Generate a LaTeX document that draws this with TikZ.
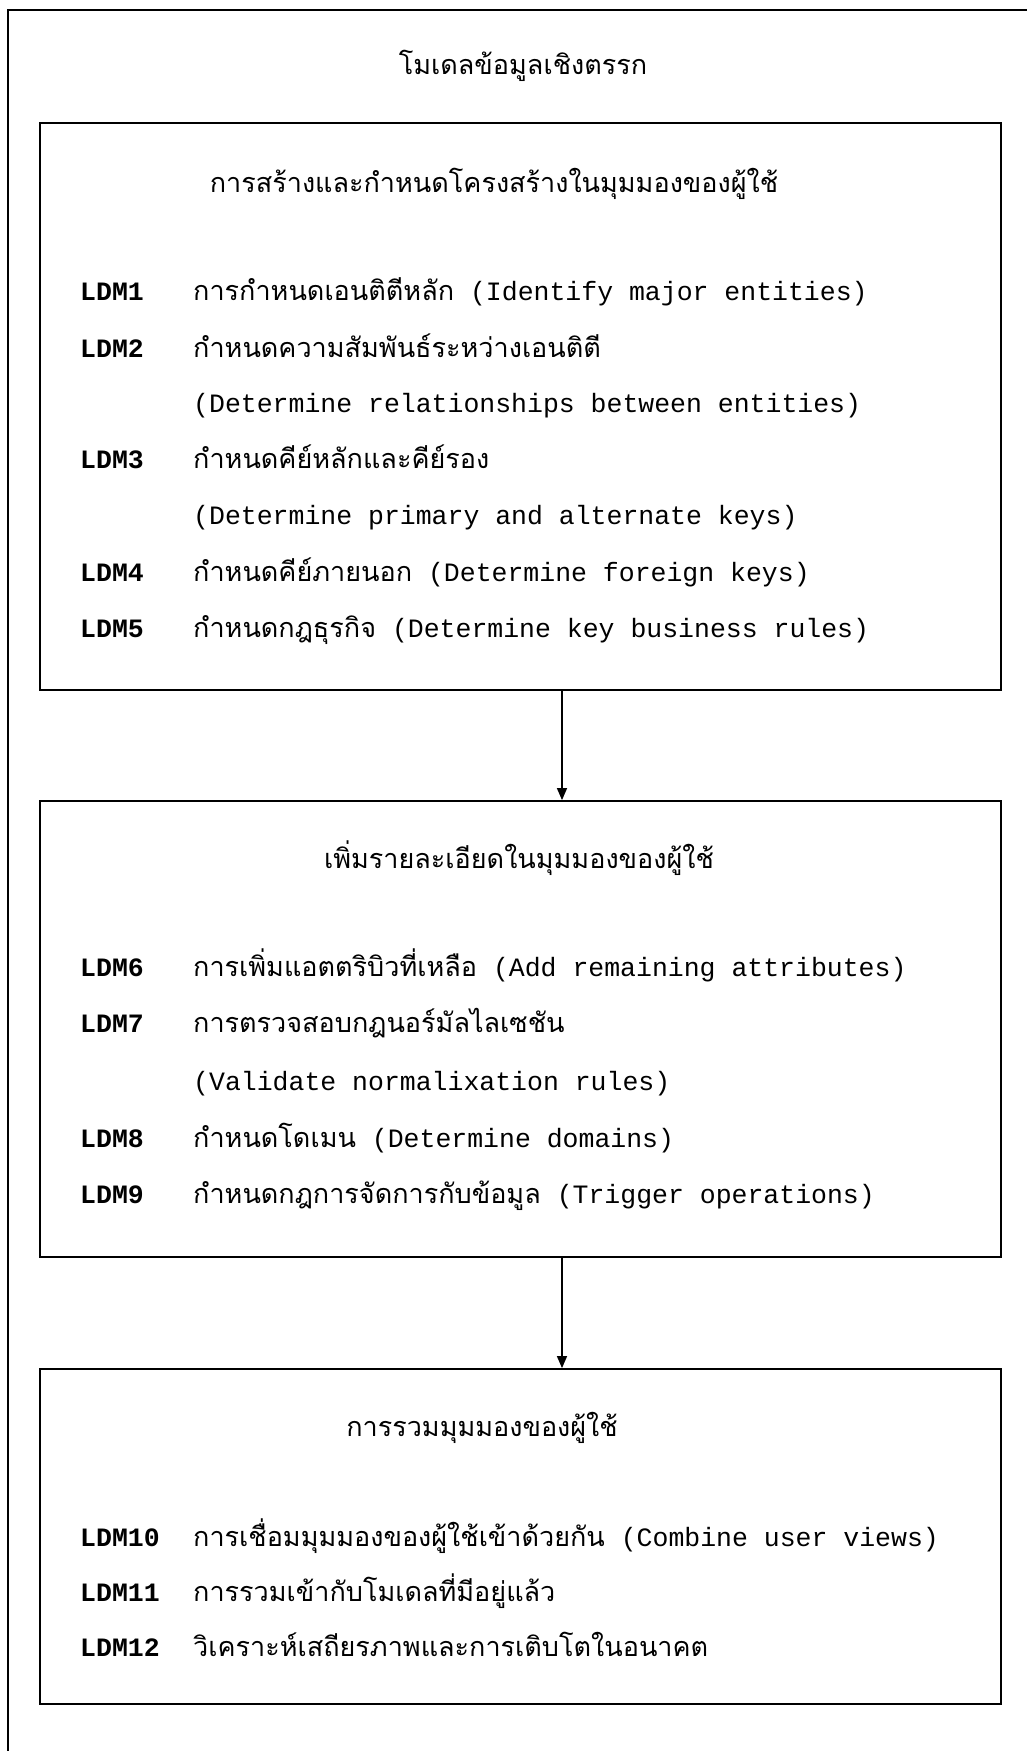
\documentclass[tikz,border=0pt]{standalone}
\usepackage{fontspec}
\setmonofont{Liberation Mono}
\newfontfamily\thaif[Script=Thai]{Loma}
\usetikzlibrary{arrows.meta}
\tikzset{
  x=1pt, y=-1pt,
  box/.style={draw, line width=1.8pt, inner sep=0pt},
  frame/.style={draw, line width=2.4pt},
  arr/.style={draw, line width=1.4pt, -{Triangle[length=12pt,width=10pt]}},
  lbl/.style={anchor=base west, inner sep=0pt, font=\fontsize{26.5}{30}\ttfamily\bfseries},
  txt/.style={anchor=base west, inner sep=0pt, font=\fontsize{26.5}{30}\ttfamily},
  head/.style={anchor=base, inner sep=0pt, font=\fontsize{27}{30}\thaif},
}
\newcommand{\thx}[1]{{\fontsize{27}{30}\thaif #1}}
\begin{document}
\begin{tikzpicture}
\useasboundingbox (0,0) rectangle (1027,1751);
% outer frame (cut by the page at right and bottom)
\coordinate (ftl) at (8,10);
\draw[frame] (1040,10) -- (ftl) -- (8,1760);
% title
\node[head] (title) at (523,74) {โมเดลข้อมูลเชิงตรรก};
% boxes
\node[box, minimum width=961pt, minimum height=567pt] (b1) at (520.5,406.5) {};
\node[box, minimum width=961pt, minimum height=456pt] (b2) at (520.5,1029) {};
\node[box, minimum width=961pt, minimum height=335pt] (b3) at (520.5,1536.5) {};
\coordinate (ax) at (562,0);
\draw[arr] (b1.south -| ax) -- (b2.north -| ax);
\draw[arr] (b2.south -| ax) -- (b3.north -| ax);
% box 1
\node[head] (h1) at (494,192) {การสร้างและกำหนดโครงสร้างในมุมมองของผู้ใช้};
\node[lbl] (l1) at (80,300) {LDM1};
\node[txt] (t1) at (193,300) {\thx{การกำหนดเอนติตีหลัก} (Identify major entities)};
\node[lbl] (l2) at (80,357) {LDM2};
\node[txt] (t2) at (193,357) {\thx{กำหนดความสัมพันธ์ระหว่างเอนติตี}};
\node[txt] (t2b) at (193,412) {(Determine relationships between entities)};
\node[lbl] (l3) at (80,468) {LDM3};
\node[txt] (t3) at (193,468) {\thx{กำหนดคีย์หลักและคีย์รอง}};
\node[txt] (t3b) at (193,524) {(Determine primary and alternate keys)};
\node[lbl] (l4) at (80,581) {LDM4};
\node[txt] (t4) at (193,581) {\thx{กำหนดคีย์ภายนอก} (Determine foreign keys)};
\node[lbl] (l5) at (80,637) {LDM5};
\node[txt] (t5) at (193,637) {\thx{กำหนดกฎธุรกิจ} (Determine key business rules)};
% box 2
\node[head] (h2) at (519,868) {เพิ่มรายละเอียดในมุมมองของผู้ใช้};
\node[lbl] (l6) at (80,976) {LDM6};
\node[txt] (t6) at (193,976) {\thx{การเพิ่มแอตตริบิวที่เหลือ} (Add remaining attributes)};
\node[lbl] (l7) at (80,1032) {LDM7};
\node[txt] (t7) at (193,1032) {\thx{การตรวจสอบกฎนอร์มัลไลเซชัน}};
\node[txt] (t7b) at (193,1090) {(Validate normalixation rules)};
\node[lbl] (l8) at (80,1147) {LDM8};
\node[txt] (t8) at (193,1147) {\thx{กำหนดโดเมน} (Determine domains)};
\node[lbl] (l9) at (80,1203) {LDM9};
\node[txt] (t9) at (193,1203) {\thx{กำหนดกฎการจัดการกับข้อมูล} (Trigger operations)};
% box 3
\node[head] (h3) at (482,1436) {การรวมมุมมองของผู้ใช้};
\node[lbl] (l10) at (80,1546) {LDM10};
\node[txt] (t10) at (193,1546) {\thx{การเชื่อมมุมมองของผู้ใช้เข้าด้วยกัน} (Combine user views)};
\node[lbl] (l11) at (80,1601) {LDM11};
\node[txt] (t11) at (193,1601) {\thx{การรวมเข้ากับโมเดลที่มีอยู่แล้ว}};
\node[lbl] (l12) at (80,1656) {LDM12};
\node[txt] (t12) at (193,1656) {\thx{วิเคราะห์เสถียรภาพและการเติบโตในอนาคต}};
\end{tikzpicture}
\end{document}
